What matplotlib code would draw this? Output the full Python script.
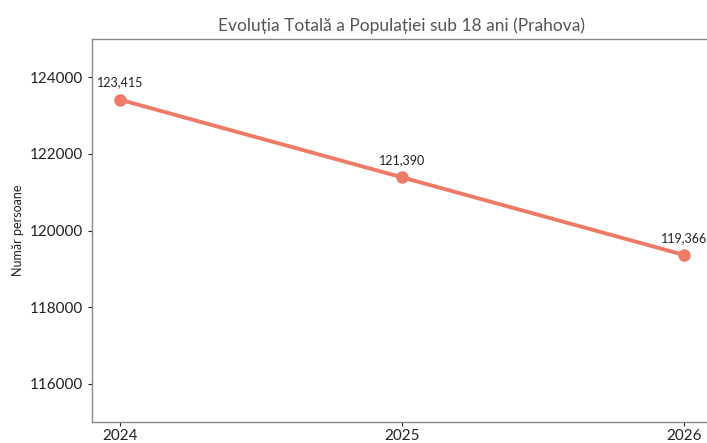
import matplotlib
matplotlib.use('Agg')
import matplotlib.pyplot as plt

years = [2024, 2025, 2026]
populatie = [123415, 121390, 119366]
etichete = ['123,415', '121,390', '119,366']
y_ticks = [116000, 118000, 120000, 122000, 124000]

plt.rcParams['font.family'] = ['Lato', 'DejaVu Sans']

fig = plt.figure(figsize=(7.07, 4.43), dpi=100)
ax = fig.add_axes([0.130, 0.047, 0.877, 0.865])

culoare = '#ee7b68'
ax.plot(years, populatie, color=culoare, linewidth=2.8, marker='o', markersize=8)

for x, y, t in zip(years, populatie, etichete):
    ax.annotate(t, (x, y), xytext=(0, 8), textcoords='offset points',
                ha='center', va='bottom', fontsize=9, color='#222222')

ax.set_xlim(2023.9, 2026.1)
ax.set_ylim(115000, 125000)
ax.set_xticks(years)
ax.set_xticklabels([str(y) for y in years])
ax.set_yticks(y_ticks)
ax.tick_params(axis='both', labelsize=11, colors='#222222', length=3)
ax.tick_params(axis='x', pad=2)

for s in ax.spines.values():
    s.set_color('#888888')
    s.set_linewidth(1)

ax.set_ylabel('Număr persoane', fontsize=9, color='#222222', labelpad=4)
ax.set_title('Evoluția Totală a Populației sub 18 ani (Prahova)',
             fontsize=12.5, color='#555555', pad=6)

fig.savefig('out.png', dpi=100)
